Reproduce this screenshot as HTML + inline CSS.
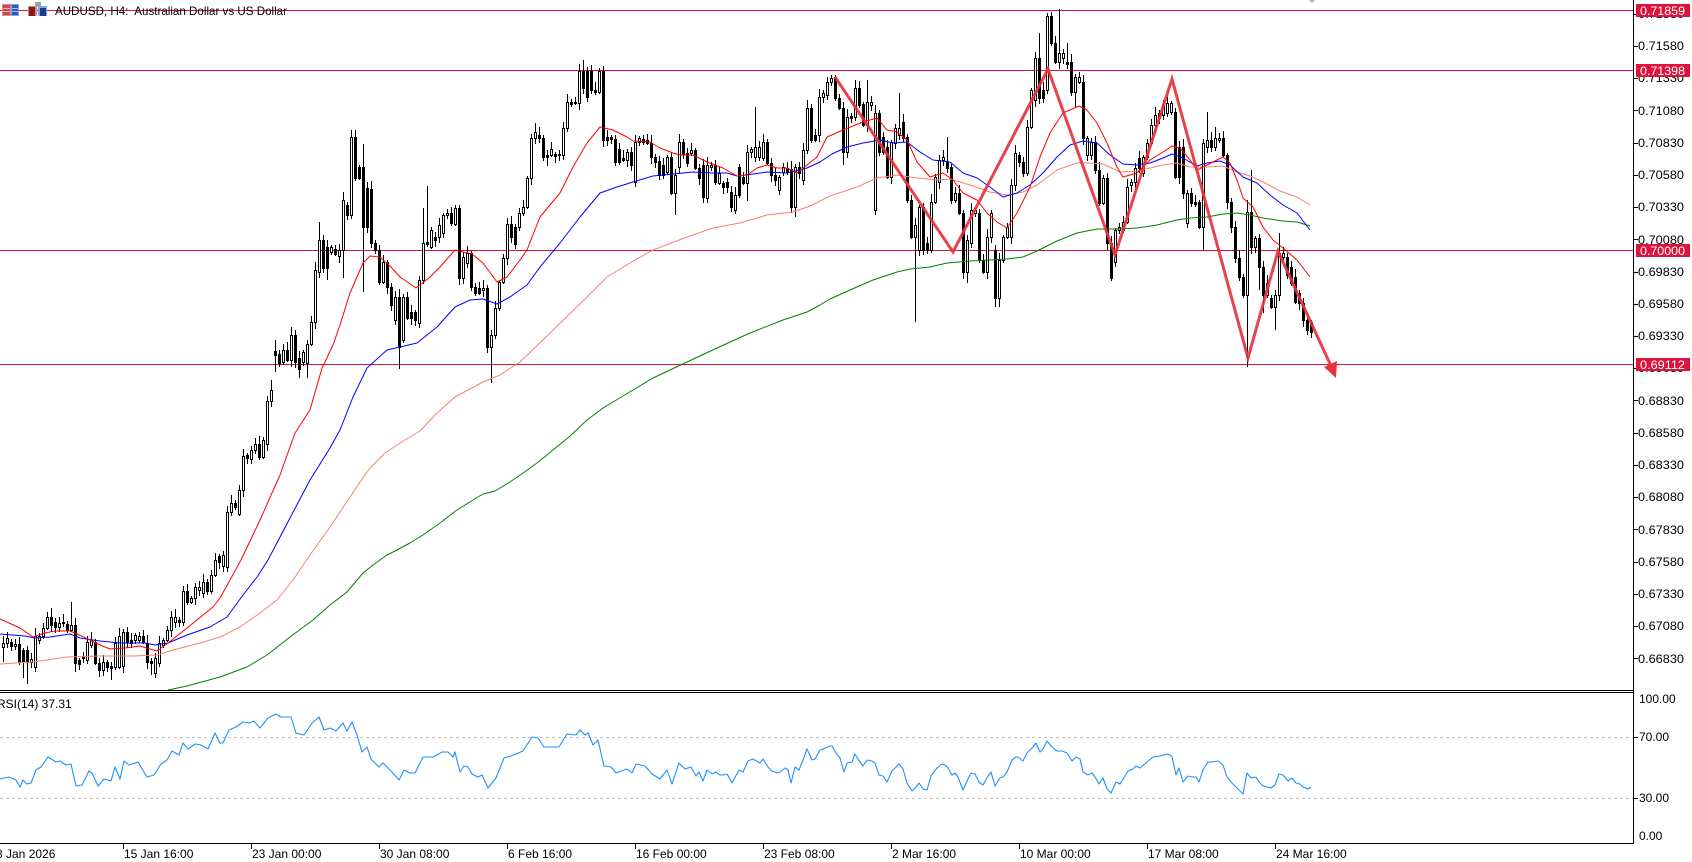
<!DOCTYPE html>
<html><head><meta charset="utf-8"><style>
html,body{margin:0;padding:0;background:#fff;overflow:hidden}
svg{display:block}
text{font-family:"Liberation Sans",sans-serif;font-size:12px;fill:#000;white-space:pre}
</style></head><body>
<svg id="s" width="1692" height="862" viewBox="0 0 1692 862" xmlns="http://www.w3.org/2000/svg">
<rect x="0" y="0" width="1692" height="862" fill="#fff"/>
<defs>
<clipPath id="cm"><rect x="0" y="0" width="1633" height="690"/></clipPath>
<clipPath id="cr"><rect x="0" y="693" width="1633" height="150"/></clipPath>
</defs>
<g clip-path="url(#cm)">
<g fill="#dc143c" shape-rendering="crispEdges">
<rect x="0" y="10" width="1633" height="1"/>
<rect x="0" y="70" width="1633" height="1"/>
<rect x="0" y="250" width="1633" height="1"/>
<rect x="0" y="364" width="1633" height="1"/>
</g>
<g id="c" fill="#000" shape-rendering="crispEdges"></g>
<g fill="none" stroke-width="1" stroke-linejoin="round">
<polyline stroke="#008000" points="168,690 187,686 220,677 247,667 267,655 290,637 313,620 330,605 347,592 363,573 373,565 387,555 397,550 410,543 423,535 440,523 457,510 473,500 483,494 495,491 510,482 523,473 537,463 553,450 569,437 587,420 603,408 633,390 653,378 687,362 717,348 750,333 783,320 807,312 820,305 830,299 850,290 873,280 897,272 910,269 930,267 947,263 970,261 990,260 1007,259 1023,257 1037,251 1057,241 1077,233 1097,229 1117,229 1137,228 1157,225 1177,220 1190,218 1207,217 1223,214 1237,213 1250,215 1263,218 1283,221 1297,222 1310,226"/>
<polyline stroke="#fa8072" points="0,664 33,662 67,657 100,656 133,656 157,655 173,650 200,643 220,637 240,627 260,613 277,600 293,580 305,562 320,541 330,527 340,512 350,497 360,482 370,468 385,453 400,443 410,437 420,431 437,413 455,397 483,382 500,375 520,362 550,333 587,297 607,277 630,263 653,250 687,237 713,228 740,223 767,215 793,212 810,206 830,196 857,187 877,178 897,175 917,178 937,180 950,179 970,185 990,192 1007,195 1023,192 1037,185 1057,170 1077,163 1090,163 1103,164 1120,172 1137,171 1150,168 1163,165 1177,163 1190,167 1207,167 1223,166 1237,172 1250,176 1263,182 1280,191 1297,197 1310,205"/>
<polyline stroke="#0000ff" points="0,634 25,636 35,638 50,637 70,634 80,638 100,641 120,643 145,643 155,645 168,643 187,635 210,627 227,617 243,595 257,577 268,560 290,518 310,480 330,448 340,430 353,397 367,368 387,350 400,347 417,343 437,327 455,307 470,300 483,299 497,304 510,297 527,285 540,267 560,243 580,217 600,193 617,187 633,182 653,176 673,174 693,172 713,173 727,173 737,176 753,174 767,172 787,173 807,168 820,162 832,154 847,147 863,143 880,140 893,143 907,142 920,152 933,160 950,162 963,173 977,178 990,187 1003,197 1017,193 1030,185 1043,173 1057,157 1070,145 1083,141 1097,143 1110,155 1123,164 1137,165 1150,163 1163,158 1172,154 1183,158 1197,166 1207,163 1220,161 1230,165 1243,177 1257,183 1270,195 1283,205 1297,213 1310,230"/>
<polyline stroke="#ff0000" points="0,619 20,628 33,637 45,633 55,631 70,631 75,633 90,640 100,645 110,649 125,648 140,646 150,649 157,651 168,643 187,628 203,615 213,607 220,598 230,580 241,560 260,520 280,475 295,433 310,410 322,368 333,345 340,325 350,293 363,263 370,256 380,257 390,266 400,277 416,288 430,277 440,267 455,250 472,254 483,263 497,282 507,277 520,260 527,250 540,217 560,193 573,167 587,143 600,127 613,130 627,137 633,141 650,142 660,148 673,153 680,155 693,155 707,162 723,168 737,176 747,175 757,168 767,165 777,168 787,168 797,173 807,165 817,157 827,137 843,130 863,122 877,118 887,130 897,132 907,140 917,162 930,177 943,173 953,180 963,193 977,200 987,213 997,222 1007,228 1017,213 1030,187 1040,157 1050,133 1063,113 1079,106 1087,110 1097,123 1107,143 1117,167 1123,177 1137,173 1150,160 1163,152 1172,146 1180,148 1190,160 1197,170 1203,167 1213,162 1223,157 1230,163 1237,180 1243,198 1253,207 1263,227 1273,240 1283,248 1297,260 1310,277"/>
</g>
<polyline fill="none" stroke="#e5333b" stroke-opacity="0.92" stroke-width="3" stroke-linejoin="miter" points="835,77 953,252 1048,69 1115,255 1172,79 1248,358 1278,251 1331,366"/>
<polygon fill="#e5333b" points="1336,378 1324,367 1337,361"/>
</g>
<polygon points="1309,0 1315,0 1312,3" fill="#b0b0b0"/>
<!-- title icons -->
<g shape-rendering="crispEdges">
<rect x="2" y="4" width="9" height="12" fill="#f08080"/>
<rect x="3" y="5" width="7" height="10" fill="#c0504d"/>
<rect x="3" y="8" width="7" height="1" fill="#f4b0b0"/>
<rect x="3" y="11" width="7" height="1" fill="#f4b0b0"/>
<rect x="11" y="4" width="8" height="12" fill="#6fa8ff"/>
<rect x="12" y="5" width="6" height="10" fill="#2a5db0"/>
<rect x="12" y="8" width="6" height="1" fill="#9cc2ff"/>
<rect x="12" y="11" width="6" height="1" fill="#9cc2ff"/>
<rect x="28" y="6" width="9" height="10" fill="#f08080"/>
<rect x="29" y="7" width="6" height="9" fill="#7a1f1f"/>
<rect x="35" y="2" width="6" height="5" fill="#a0a0a0"/>
<rect x="38" y="6" width="9" height="10" fill="#6fa8ff"/>
<rect x="40" y="8" width="6" height="8" fill="#1f3f80"/>
</g>
<text x="55" y="15" textLength="232" lengthAdjust="spacingAndGlyphs">AUDUSD, H4:  Australian Dollar vs US Dollar</text>
<!-- frame -->
<g fill="#000" shape-rendering="crispEdges">
<rect x="1633" y="0" width="1" height="844"/>
<rect x="0" y="690" width="1634" height="1"/>
<rect x="0" y="692" width="1634" height="1"/>
<rect x="0" y="843" width="1634" height="1"/>
</g>
<!-- price axis -->
<g id="pa"></g>
<g shape-rendering="crispEdges" fill="#000">
<rect x="1633" y="14" width="5" height="1"/><rect x="1633" y="46" width="5" height="1"/><rect x="1633" y="78" width="5" height="1"/><rect x="1633" y="110" width="5" height="1"/><rect x="1633" y="143" width="5" height="1"/><rect x="1633" y="175" width="5" height="1"/><rect x="1633" y="207" width="5" height="1"/><rect x="1633" y="239" width="5" height="1"/><rect x="1633" y="272" width="5" height="1"/><rect x="1633" y="304" width="5" height="1"/><rect x="1633" y="336" width="5" height="1"/><rect x="1633" y="368" width="5" height="1"/><rect x="1633" y="400" width="5" height="1"/><rect x="1633" y="433" width="5" height="1"/><rect x="1633" y="465" width="5" height="1"/><rect x="1633" y="497" width="5" height="1"/><rect x="1633" y="529" width="5" height="1"/><rect x="1633" y="562" width="5" height="1"/><rect x="1633" y="594" width="5" height="1"/><rect x="1633" y="626" width="5" height="1"/><rect x="1633" y="658" width="5" height="1"/>
<rect x="1633" y="737" width="5" height="1"/><rect x="1633" y="798" width="5" height="1"/>
</g>
<g>
<text x="1638" y="18" textLength="46" lengthAdjust="spacingAndGlyphs">0.71830</text>
<text x="1638" y="50" textLength="46" lengthAdjust="spacingAndGlyphs">0.71580</text>
<text x="1638" y="82" textLength="46" lengthAdjust="spacingAndGlyphs">0.71330</text>
<text x="1638" y="115" textLength="46" lengthAdjust="spacingAndGlyphs">0.71080</text>
<text x="1638" y="147" textLength="46" lengthAdjust="spacingAndGlyphs">0.70830</text>
<text x="1638" y="179" textLength="46" lengthAdjust="spacingAndGlyphs">0.70580</text>
<text x="1638" y="211" textLength="46" lengthAdjust="spacingAndGlyphs">0.70330</text>
<text x="1638" y="244" textLength="46" lengthAdjust="spacingAndGlyphs">0.70080</text>
<text x="1638" y="276" textLength="46" lengthAdjust="spacingAndGlyphs">0.69830</text>
<text x="1638" y="308" textLength="46" lengthAdjust="spacingAndGlyphs">0.69580</text>
<text x="1638" y="340" textLength="46" lengthAdjust="spacingAndGlyphs">0.69330</text>
<text x="1638" y="372" textLength="46" lengthAdjust="spacingAndGlyphs">0.69080</text>
<text x="1638" y="405" textLength="46" lengthAdjust="spacingAndGlyphs">0.68830</text>
<text x="1638" y="437" textLength="46" lengthAdjust="spacingAndGlyphs">0.68580</text>
<text x="1638" y="469" textLength="46" lengthAdjust="spacingAndGlyphs">0.68330</text>
<text x="1638" y="501" textLength="46" lengthAdjust="spacingAndGlyphs">0.68080</text>
<text x="1638" y="534" textLength="46" lengthAdjust="spacingAndGlyphs">0.67830</text>
<text x="1638" y="566" textLength="46" lengthAdjust="spacingAndGlyphs">0.67580</text>
<text x="1638" y="598" textLength="46" lengthAdjust="spacingAndGlyphs">0.67330</text>
<text x="1638" y="630" textLength="46" lengthAdjust="spacingAndGlyphs">0.67080</text>
<text x="1638" y="663" textLength="46" lengthAdjust="spacingAndGlyphs">0.66830</text>
</g>
<!-- red price labels -->
<g shape-rendering="crispEdges" fill="#dc143c">
<rect x="1636" y="4" width="54" height="13"/>
<rect x="1636" y="64" width="54" height="13"/>
<rect x="1636" y="244" width="54" height="13"/>
<rect x="1636" y="358" width="54" height="13"/>
</g>
<g>
<text x="1640" y="15" textLength="45" lengthAdjust="spacingAndGlyphs" style="fill:#fff">0.71859</text>
<text x="1640" y="75" textLength="45" lengthAdjust="spacingAndGlyphs" style="fill:#fff">0.71398</text>
<text x="1640" y="255" textLength="45" lengthAdjust="spacingAndGlyphs" style="fill:#fff">0.70000</text>
<text x="1640" y="369" textLength="45" lengthAdjust="spacingAndGlyphs" style="fill:#fff">0.69112</text>
</g>
<!-- RSI panel -->
<g clip-path="url(#cr)">
<line x1="0" y1="737.5" x2="1633" y2="737.5" stroke="#c0c0c0" stroke-width="1" stroke-dasharray="3,3"/>
<line x1="0" y1="798.5" x2="1633" y2="798.5" stroke="#c0c0c0" stroke-width="1" stroke-dasharray="3,3"/>
<polyline fill="none" stroke="#1e90ff" stroke-width="1.1" stroke-linejoin="round" points="0,779 9,777 16,780 20,787 23,780 27,784 31,783 36,770 41,767 48,757 56,762 60,761 66,765 71,764 73,773 76,786 82,785 89,771 92,773 98,786 104,779 111,781 115,767 120,779 124,761 129,765 138,762 147,777 154,775 161,764 167,760 172,751 179,755 183,743 188,749 195,744 201,745 208,749 215,733 220,743 223,743 229,730 236,727 243,722 249,723 254,721 260,728 268,718 276,714 281,717 291,717 296,733 304,735 312,723 319,717 324,730 330,728 336,731 343,723 347,731 352,722 357,735 362,752 367,747 371,759 379,767 383,763 391,771 399,780 404,770 410,773 415,773 423,757 433,757 442,752 448,752 453,757 455,752 460,772 464,766 468,767 472,774 478,777 482,775 488,788 496,778 504,758 511,756 523,751 532,737 538,738 544,747 559,747 567,734 576,735 580,730 585,735 588,733 593,745 598,740 604,766 611,767 616,773 627,769 632,773 636,764 645,766 652,774 660,779 667,770 672,784 679,763 685,769 691,767 696,776 699,772 703,781 707,770 712,774 716,772 720,775 723,775 727,774 732,783 739,770 743,772 748,761 753,759 760,763 763,759 768,767 772,771 777,773 780,772 785,768 788,770 791,783 795,767 799,770 803,760 807,749 812,760 815,759 820,750 823,749 830,746 832,746 836,753 840,758 844,772 847,763 852,762 855,754 858,759 863,766 867,760 872,761 875,763 879,775 883,776 887,782 892,771 895,768 899,764 903,769 907,783 912,791 915,788 919,783 923,789 927,790 931,776 937,768 942,764 945,765 948,768 952,775 955,773 958,777 963,790 967,781 971,773 975,774 979,782 983,785 988,776 991,772 995,786 1000,778 1003,777 1007,772 1012,760 1016,757 1018,757 1023,761 1027,753 1033,747 1036,743 1040,752 1043,749 1047,741 1052,747 1057,751 1062,751 1067,753 1072,761 1076,757 1080,759 1083,772 1088,775 1092,773 1095,777 1099,784 1103,778 1107,789 1111,793 1116,782 1120,784 1125,776 1128,771 1133,769 1136,766 1140,768 1147,762 1153,757 1160,756 1167,754 1170,755 1172,757 1176,775 1179,768 1183,782 1188,776 1192,777 1196,777 1199,782 1203,770 1208,762 1212,762 1218,761 1223,765 1227,777 1232,783 1237,788 1243,794 1247,773 1251,778 1256,777 1259,782 1263,786 1271,788 1275,785 1279,774 1283,775 1288,781 1292,778 1296,783 1300,784 1303,787 1308,789 1311,787"/>
</g>
<text x="-3" y="708">RSI(14) 37.31</text>
<text x="1639" y="703">100.00</text>
<text x="1639" y="741">70.00</text>
<text x="1639" y="802">30.00</text>
<text x="1639" y="840">0.00</text>
<!-- time axis -->
<g fill="#000" shape-rendering="crispEdges">
<rect x="123" y="843" width="1" height="6"/><rect x="251" y="843" width="1" height="6"/><rect x="379" y="843" width="1" height="6"/><rect x="507" y="843" width="1" height="6"/><rect x="635" y="843" width="1" height="6"/><rect x="763" y="843" width="1" height="6"/><rect x="891" y="843" width="1" height="6"/><rect x="1019" y="843" width="1" height="6"/><rect x="1147" y="843" width="1" height="6"/><rect x="1275" y="843" width="1" height="6"/>
</g>
<text x="-4" y="858">8 Jan 2026</text>
<text x="124" y="858">15 Jan 16:00</text>
<text x="252" y="858">23 Jan 00:00</text>
<text x="380" y="858">30 Jan 08:00</text>
<text x="508" y="858">6 Feb 16:00</text>
<text x="636" y="858">16 Feb 00:00</text>
<text x="764" y="858">23 Feb 08:00</text>
<text x="892" y="858">2 Mar 16:00</text>
<text x="1020" y="858">10 Mar 00:00</text>
<text x="1148" y="858">17 Mar 08:00</text>
<text x="1276" y="858">24 Mar 16:00</text>
</svg>
<script>
(function(){
var D=[[643,647,1,636,662],[638,643,1,632,648],[642,646,0,0,0],[644,646,1,0,0],[644,662,0,0,0],[650,662,0,0,678],[650,662,0,0,684],[659,662,1,0,0],[636,667,1,628,0],[636,640,1,0,0],
[628,636,1,0,0],[617,628,1,612,0],[617,625,0,608,0],[622,627,0,0,0],[623,627,1,0,0],[622,623,1,0,0],[624,630,0,0,0],[625,630,1,602,0],[625,663,0,0,672],[660,664,0,0,0],
[656,658,0,0,0],[642,660,1,0,0],[640,645,1,0,0],[642,663,0,0,0],[663,670,0,0,0],[662,670,1,0,0],[662,667,0,0,0],[666,668,0,0,680],[643,667,1,0,0],[636,667,1,0,0],
[632,666,1,0,0],[632,642,0,0,0],[640,643,0,0,0],[635,640,1,0,0],[636,640,1,0,0],[636,642,0,0,0],[643,662,0,0,0],[661,663,0,0,675],[658,673,1,0,678],[643,663,1,0,0],
[640,645,1,0,0],[630,640,1,0,0],[617,630,1,0,0],[617,622,1,0,0],[620,622,0,0,0],[591,622,1,0,0],[591,602,0,0,0],[598,602,1,0,0],[587,598,1,0,0],[587,590,1,0,0],
[582,593,1,0,0],[582,591,0,0,0],[575,591,1,0,0],[560,575,1,0,0],[556,562,0,0,0],[555,566,1,0,0],[512,567,1,0,0],[503,512,1,0,0],[503,507,0,0,0],[490,514,1,0,0],
[456,490,1,0,0],[455,458,0,0,0],[450,459,1,0,0],[444,450,1,0,0],[444,457,0,0,0],[440,457,1,0,0],[401,444,1,0,0],[390,401,1,380,0],[351,355,0,340,372],[354,363,0,0,0],
[350,362,1,0,0],[350,360,0,0,0],[335,360,1,327,0],[335,362,0,0,0],[358,369,0,0,378],[352,362,1,0,0],[344,363,1,0,378],[322,344,1,0,0],[270,322,1,0,0],[240,272,1,222,0],
[240,268,0,0,0],[247,268,0,0,280],[247,252,1,0,0],[249,254,0,0,0],[250,256,1,0,0],[200,250,1,0,278],[205,215,0,0,0],[137,215,1,130,0],[137,178,0,0,0],[167,178,0,0,0],
[167,227,0,144,292],[188,227,0,0,0],[189,243,0,0,0],[243,250,0,0,0],[250,282,0,0,0],[262,282,1,0,0],[262,287,0,0,0],[287,305,0,0,0],[297,320,1,0,0],[297,347,0,0,369],
[297,340,1,0,0],[297,318,0,0,0],[312,318,0,0,0],[312,320,0,0,0],[280,323,1,0,0],[243,280,1,208,0],[242,244,0,186,0],[230,247,1,0,0],[237,240,0,0,0],[225,237,1,0,0],
[215,233,1,0,0],[213,215,1,0,0],[213,223,0,0,0],[208,224,1,205,0],[208,278,0,0,0],[257,278,1,0,0],[253,263,1,0,0],[253,287,0,0,0],[287,293,0,0,0],[288,293,0,0,0],
[288,290,1,0,0],[288,347,0,0,0],[335,347,1,0,383],[308,335,1,0,0],[282,308,1,0,0],[258,282,1,0,0],[224,258,1,0,0],[224,237,0,0,0],[227,244,0,0,0],[213,227,1,0,0],
[207,213,1,0,0],[178,207,1,0,0],[138,178,1,0,0],[132,138,1,123,0],[135,138,0,0,0],[138,157,0,0,0],[155,157,0,0,166],[149,155,1,0,0],[154,156,0,0,0],[154,155,1,0,0],
[128,155,1,0,0],[102,128,1,0,0],[102,104,0,0,0],[102,103,1,0,0],[71,103,1,0,0],[71,88,0,60,0],[71,97,0,0,0],[71,90,0,0,0],[90,92,0,0,0],[71,92,1,0,0],
[71,140,0,0,0],[137,140,0,0,0],[137,139,0,0,0],[139,162,0,0,0],[149,162,0,0,0],[158,160,0,0,0],[152,160,1,0,0],[152,165,0,0,0],[142,182,1,0,0],[138,142,1,0,0],
[139,142,0,0,0],[140,143,0,0,0],[143,157,0,0,0],[157,162,0,0,0],[161,175,0,0,0],[165,175,0,0,0],[157,172,1,0,0],[157,193,0,0,0],[175,193,1,0,215],[142,167,1,0,0],
[142,154,0,0,0],[153,163,0,0,0],[150,153,1,0,0],[150,168,0,0,0],[168,178,0,0,0],[165,197,0,0,0],[165,198,1,0,0],[165,167,1,0,0],[165,182,0,0,0],[173,183,1,0,0],
[183,187,0,0,0],[182,187,0,0,0],[192,207,0,0,0],[195,210,1,0,0],[167,195,0,0,0],[177,183,0,0,0],[152,183,1,0,201],[149,152,1,0,0],[147,157,1,107,0],[147,157,1,0,0],
[142,158,1,0,0],[142,163,0,0,0],[163,175,0,0,0],[175,180,0,0,0],[177,190,1,0,0],[167,172,1,0,0],[168,172,0,0,0],[169,207,0,0,213],[167,207,1,0,217],[167,173,0,0,0],
[150,180,1,0,0],[108,150,1,100,0],[108,140,0,0,0],[135,140,0,0,0],[97,135,1,0,0],[93,97,1,0,0],[82,95,1,0,0],[78,82,1,75,0],[77,98,0,0,0],[98,108,0,0,0],
[108,152,0,0,165],[117,152,1,0,0],[116,118,0,0,0],[88,117,1,80,0],[88,105,0,0,0],[104,125,0,0,0],[102,125,1,80,0],[102,105,1,0,0],[113,210,1,0,0],[113,152,0,0,0],
[137,152,0,0,0],[147,177,0,0,0],[142,177,1,0,0],[128,143,1,0,0],[128,135,1,93,0],[122,138,0,0,0],[137,200,0,0,0],[200,237,0,0,0],[225,237,1,0,322],[207,250,1,0,0],
[207,250,0,0,0],[243,250,0,0,0],[202,250,1,0,0],[177,202,1,0,0],[160,182,1,0,0],[157,160,1,0,0],[162,168,0,137,0],[167,200,0,0,0],[193,200,1,0,0],[193,213,0,0,0],
[213,272,0,0,0],[240,272,1,0,283],[210,243,1,0,0],[210,213,1,0,0],[213,260,0,0,0],[260,272,0,0,0],[237,272,1,0,0],[213,237,1,0,0],[250,298,0,0,307],[260,298,1,0,307],
[237,260,1,0,0],[227,237,1,0,0],[185,237,1,0,0],[153,185,1,0,0],[155,162,0,0,0],[162,173,0,0,0],[127,173,1,0,0],[90,127,1,0,0],[58,100,1,52,0],[58,98,0,33,0],
[90,98,0,0,0],[16,90,1,0,0],[16,43,0,12,0],[43,62,0,0,0],[53,62,1,9,0],[53,58,1,0,0],[62,64,0,43,0],[62,92,0,0,0],[77,92,1,0,108],[77,82,1,0,0],
[82,138,0,0,0],[138,155,1,0,0],[142,155,1,0,0],[142,170,0,0,0],[170,203,0,0,0],[178,203,1,0,0],[178,243,0,0,0],[243,278,0,0,281],[230,262,1,0,0],[227,230,1,0,0],
[222,230,1,0,0],[187,222,1,0,0],[182,185,1,0,0],[168,182,1,0,0],[158,168,0,0,0],[157,173,1,0,0],[143,157,1,0,0],[125,143,1,0,0],[115,125,1,0,0],[113,118,0,0,0],
[105,115,1,0,0],[103,113,1,0,0],[103,112,1,0,0],[112,177,0,0,0],[147,177,0,0,0],[147,193,0,0,0],[193,223,1,0,0],[193,203,0,0,0],[202,204,0,0,0],[202,227,0,0,0],
[143,227,1,0,250],[140,147,1,112,0],[140,147,0,0,0],[138,147,1,127,0],[138,140,1,0,0],[138,155,0,0,0],[155,202,0,0,0],[202,227,0,0,0],[227,258,0,0,0],[258,277,0,0,0],
[277,295,0,0,0],[212,295,1,200,367],[212,247,0,170,0],[238,247,1,0,0],[238,267,0,0,290],[267,295,0,0,313],[283,295,1,0,0],[298,307,0,0,0],[295,307,1,0,330],[253,295,1,233,0],
[253,257,1,247,0],[257,275,0,0,0],[267,283,0,0,0],[277,302,0,0,0],[293,303,0,0,0],[303,320,0,0,327],[320,330,0,0,0],[322,332,0,0,338]];
var s='';
for(var k=0;k<D.length;k++){
 var d=D[k],x=4*k+3,t=d[0],b=d[1],w=d[2],h=d[3],l=d[4];
 if(b<=t)b=t+1;
 var r1=((k*37+11)%7)+2,r2=((k*53+5)%6)+2;
 if(!h)h=t-r1; if(!l)l=b+r2;
 s+='<rect x="'+x+'" y="'+h+'" width="1" height="'+(l-h)+'"/>';
 s+='<rect x="'+(x-1)+'" y="'+t+'" width="3" height="'+(b-t+1)+'"/>';
 if(w&&b-t>=2)s+='<rect x="'+x+'" y="'+(t+1)+'" width="1" height="'+(b-t-1)+'" fill="#fff"/>';
}
document.getElementById('c').innerHTML=s;
})();
</script>
</body></html>
